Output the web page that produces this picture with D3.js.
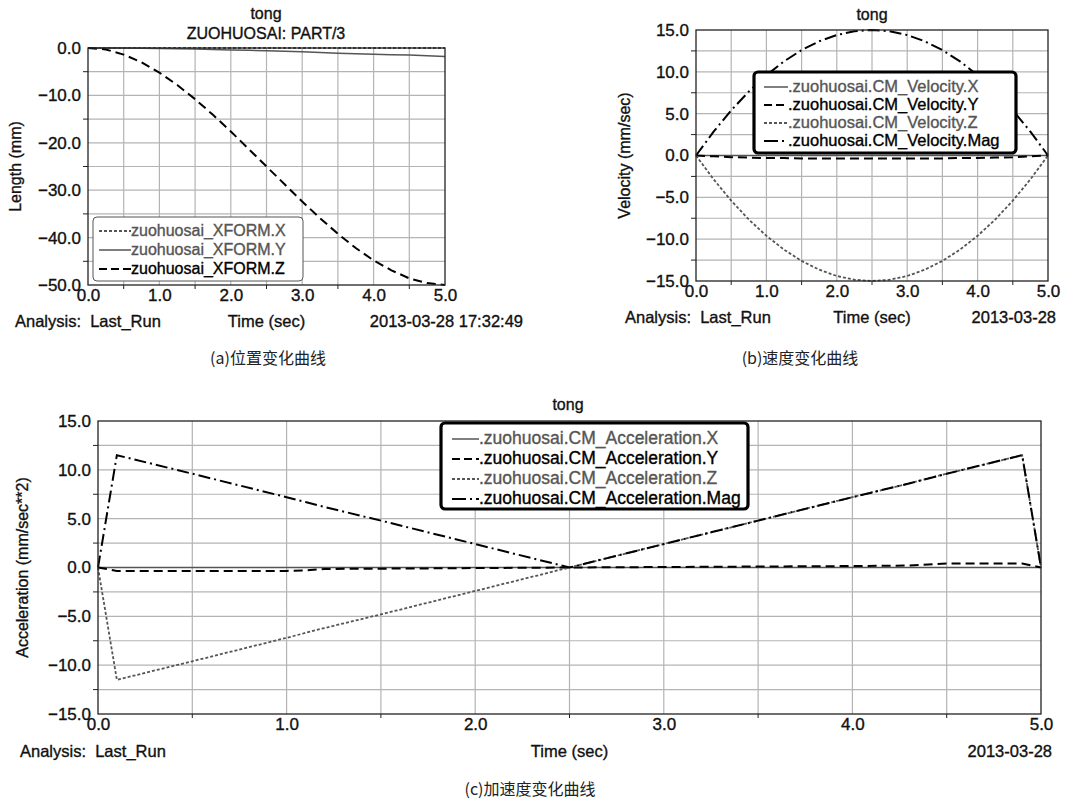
<!DOCTYPE html>
<html>
<head>
  <meta charset="utf-8">
  <script src="https://d3js.org/d3.v7.min.js"></script>
  <style>
    body { margin: 0; background: #fff; }
    svg text { font-family: "Liberation Sans", Arial, sans-serif; stroke-width: 0.35px; }
    .cap { font-family: "Noto Sans CJK SC", serif; }
  </style>
</head>
<body>
<div id="chart"></div>
<script>
  // (a) position
  const posTime = [0, 0.25, 0.5, 0.75, 1.0, 1.25, 1.5, 1.75, 2.0, 2.25, 2.5, 2.75, 3.0, 3.25, 3.5, 3.75, 4.0, 4.25, 4.5, 4.75, 5.0]
  const posX = [0, 0, 0, 0, 0, 0, 0, 0, 0, 0, 0, 0, 0, 0, 0, 0, 0, 0, 0, 0, 0]
  const posY = [0, 0, 0, -0.05, -0.1, -0.15, -0.2, -0.3, -0.4, -0.5, -0.6, -0.7, -0.8, -0.95, -1.1, -1.2, -1.3, -1.4, -1.5, -1.65, -1.8]
  const posZ = [0, -0.3, -1.4, -3.0, -5.2, -7.8, -10.8, -14.1, -17.6, -21.3, -25.0, -28.7, -32.4, -35.9, -39.2, -42.2, -44.8, -46.9, -48.6, -49.6, -50.0]

  // (b) velocity
  const velTime = posTime
  const velX = [0, 0, 0, 0, 0, 0, 0, 0, 0, 0, 0, 0, 0, 0, 0, 0, 0, 0, 0, 0, 0]
  const velY = [0, -0.1, -0.2, -0.25, -0.3, -0.3, -0.35, -0.35, -0.35, -0.35, -0.35, -0.35, -0.35, -0.35, -0.35, -0.3, -0.3, -0.25, -0.2, -0.1, 0]
  const velZ = [0, -2.85, -5.4, -7.65, -9.6, -11.25, -12.6, -13.65, -14.4, -14.85, -15.0, -14.85, -14.4, -13.65, -12.6, -11.25, -9.6, -7.65, -5.4, -2.85, 0]
  const velMag = [0, 2.85, 5.4, 7.65, 9.6, 11.25, 12.6, 13.65, 14.4, 14.85, 15.0, 14.85, 14.4, 13.65, 12.6, 11.25, 9.6, 7.65, 5.4, 2.85, 0]

  // (c) acceleration
  const accTime = [0, 0.1, 0.5, 1.0, 1.1, 1.2, 1.5, 2.0, 2.5, 3.0, 3.5, 4.0, 4.3, 4.5, 4.9, 5.0]
  const accX = [0, 0, 0, 0, 0, 0, 0, 0, 0, 0, 0, 0, 0, 0, 0, 0]
  const accY = [0, -0.35, -0.35, -0.35, -0.3, -0.15, -0.12, -0.06, 0, 0.05, 0.1, 0.15, 0.2, 0.4, 0.4, 0]
  const accZ = [0, -11.5, -9.6, -7.2, -6.7, -6.2, -4.8, -2.4, 0, 2.4, 4.8, 7.2, 8.6, 9.6, 11.5, 0]
  const accMag = [0, 11.5, 9.6, 7.2, 6.7, 6.2, 4.8, 2.4, 0, 2.4, 4.8, 7.2, 8.6, 9.6, 11.5, 0]

  const xTicks = [0, 1, 2, 3, 4, 5]

  const GRAY = "#555"
  const styles = {
    dotGray: { stroke: GRAY, width: 1.8, dash: "3,2" },
    solidGray: { stroke: GRAY, width: 1.5, dash: null },
    dashBlack: { stroke: "#000", width: 2, dash: "9,5" },
    dashDot: { stroke: "#000", width: 2, dash: "12,4,2,4" }
  }

  const svg = d3.select("#chart").append("svg")
    .attr("width", 1065).attr("height", 803)

  function txt(sel, size, color) {
    return sel.attr("font-size", size).attr("fill", color).attr("stroke", color)
  }

  function panel(p) {
    const g = svg.append("g")
    const x = d3.scaleLinear().domain([0, 5]).range([p.left, p.right])
    const y = d3.scaleLinear().domain(p.yDomain).range([p.bottom, p.top])

    // grid
    g.selectAll(".vg").data(d3.range(0.5, 5, 0.5)).join("line")
      .attr("x1", d => x(d)).attr("x2", d => x(d))
      .attr("y1", p.top).attr("y2", p.bottom)
      .attr("stroke", "#b4b4b4").attr("stroke-width", 1.2)
    g.selectAll(".hg").data(p.yGrid).join("line")
      .attr("x1", p.left).attr("x2", p.right)
      .attr("y1", d => y(d)).attr("y2", d => y(d))
      .attr("stroke", "#b4b4b4").attr("stroke-width", 1.2)

    // series
    const line = d3.line().x(d => x(d[0])).y(d => y(d[1]))
    p.series.forEach(s => {
      g.append("path")
        .datum(s.t.map((t, i) => [t, s.v[i]]))
        .attr("d", line)
        .attr("fill", "none")
        .attr("stroke", s.style.stroke)
        .attr("stroke-width", s.style.width)
        .attr("stroke-dasharray", s.style.dash)
    })

    // frame
    g.append("rect")
      .attr("x", p.left).attr("y", p.top)
      .attr("width", p.right - p.left).attr("height", p.bottom - p.top)
      .attr("fill", "none").attr("stroke", "#222").attr("stroke-width", 1.3)

    // axes
    const yAxis = d3.axisLeft(y).tickValues(p.yTicks).tickSize(0).tickPadding(7)
      .tickFormat(d3.format(".1f"))
    const ya = g.append("g").attr("transform", `translate(${p.left},0)`).call(yAxis)
    ya.select(".domain").remove()
    txt(ya.selectAll("text"), 17, "#111")
      .text(d => d === 0 ? "0.0" : d3.format(".1f")(d))
    g.selectAll(".ym").data(p.yMinor).join("line")
      .attr("x1", p.left - 5).attr("x2", p.left)
      .attr("y1", d => y(d)).attr("y2", d => y(d))
      .attr("stroke", "#222")

    const xAxis = d3.axisBottom(x).tickValues(xTicks).tickSize(0).tickPadding(4)
      .tickFormat(d3.format(".1f"))
    const xa = g.append("g").attr("transform", `translate(0,${p.bottom})`).call(xAxis)
    xa.select(".domain").remove()
    txt(xa.selectAll("text"), 17, "#111")
    g.selectAll(".xm").data(d3.range(0.5, 5, 1)).join("line")
      .attr("x1", d => x(d)).attr("x2", d => x(d))
      .attr("y1", p.bottom).attr("y2", p.bottom + 4)
      .attr("stroke", "#222")

    // titles
    p.titles.forEach((t, i) => {
      txt(g.append("text").attr("x", p.titleX).attr("y", p.titleY + i * 20)
        .attr("text-anchor", "middle"), 16, "#111").text(t)
    })
    txt(g.append("text")
      .attr("transform", `translate(${p.yLabelX},${(p.top + p.bottom) / 2}) rotate(-90)`)
      .attr("text-anchor", "middle"), 16, "#111").text(p.yLabel)

    // footer
    const fy = p.footY
    txt(g.append("text").attr("x", p.footLeft).attr("y", fy)
      .attr("xml:space", "preserve"), 16.5, "#111").text("Analysis:  Last_Run")
    txt(g.append("text").attr("x", (p.left + p.right) / 2).attr("y", fy)
      .attr("text-anchor", "middle"), 16.5, "#111").text("Time (sec)")
    txt(g.append("text").attr("x", p.footRight).attr("y", fy)
      .attr("text-anchor", "end"), 16.5, "#111").text(p.date)

    // legend
    const L = p.legend
    g.append("rect").attr("x", L.x).attr("y", L.y).attr("width", L.w).attr("height", L.h)
      .attr("rx", 4).attr("fill", "#fff")
      .attr("stroke", L.thick ? "#000" : "#555").attr("stroke-width", L.thick ? 3.2 : 1)
    p.series.forEach((s, i) => {
      const ly = L.y + L.first + i * L.step
      g.append("line").attr("x1", L.x + L.pad).attr("x2", L.x + L.pad + L.sample)
        .attr("y1", ly - 5).attr("y2", ly - 5)
        .attr("stroke", s.style.stroke).attr("stroke-width", s.style.width)
        .attr("stroke-dasharray", s.legendDash || s.style.dash)
      txt(g.append("text").attr("x", L.x + L.pad + L.sample).attr("y", ly),
        L.font, s.style.stroke === "#000" ? "#000" : "#555")
        .text(s.name)
    })
  }

  panel({
    left: 88, right: 445, top: 48, bottom: 285,
    yDomain: [-50, 0], yTicks: d3.range(-50, 1, 10), yGrid: d3.range(-45, 0, 5),
    yMinor: d3.range(-45, 0, 10),
    titles: ["tong", "ZUOHUOSAI: PART/3"], titleX: 266, titleY: 19,
    yLabel: "Length (mm)", yLabelX: 21,
    footY: 327, footLeft: 15, footRight: 523, date: "2013-03-28 17:32:49",
    legend: { x: 93, y: 217, w: 210, h: 64, pad: 6, sample: 32, first: 19, step: 19, font: 16, thick: false },
    series: [
      { name: "zuohuosai_XFORM.X", t: posTime, v: posX, style: styles.dotGray },
      { name: "zuohuosai_XFORM.Y", t: posTime, v: posY, style: styles.solidGray },
      { name: "zuohuosai_XFORM.Z", t: posTime, v: posZ, style: styles.dashBlack, legendDash: "8,4" }
    ]
  })

  panel({
    left: 696, right: 1048, top: 30, bottom: 281,
    yDomain: [-15, 15], yTicks: d3.range(-15, 16, 5), yGrid: d3.range(-12.5, 15, 2.5),
    yMinor: d3.range(-12.5, 15, 5),
    titles: ["tong"], titleX: 872, titleY: 20,
    yLabel: "Velocity (mm/sec)", yLabelX: 630,
    footY: 323, footLeft: 625, footRight: 1056, date: "2013-03-28",
    legend: { x: 754, y: 72, w: 262, h: 81, pad: 10, sample: 24, first: 20, step: 18, font: 16.5, thick: true },
    series: [
      { name: ".zuohuosai.CM_Velocity.X", t: velTime, v: velX, style: styles.solidGray },
      { name: ".zuohuosai.CM_Velocity.Y", t: velTime, v: velY, style: styles.dashBlack, legendDash: "8,4" },
      { name: ".zuohuosai.CM_Velocity.Z", t: velTime, v: velZ, style: styles.dotGray },
      { name: ".zuohuosai.CM_Velocity.Mag", t: velTime, v: velMag, style: styles.dashDot, legendDash: "14,4,2,4" }
    ]
  })

  panel({
    left: 98, right: 1041, top: 421, bottom: 714,
    yDomain: [-15, 15], yTicks: d3.range(-15, 16, 5), yGrid: d3.range(-12.5, 15, 2.5),
    yMinor: d3.range(-12.5, 15, 5),
    titles: ["tong"], titleX: 568, titleY: 410,
    yLabel: "Acceleration (mm/sec**2)", yLabelX: 28,
    footY: 757, footLeft: 20, footRight: 1052, date: "2013-03-28",
    legend: { x: 441, y: 423, w: 307, h: 86, pad: 11, sample: 27, first: 21, step: 20, font: 17.5, thick: true },
    series: [
      { name: ".zuohuosai.CM_Acceleration.X", t: accTime, v: accX, style: styles.solidGray },
      { name: ".zuohuosai.CM_Acceleration.Y", t: accTime, v: accY, style: styles.dashBlack, legendDash: "8,4" },
      { name: ".zuohuosai.CM_Acceleration.Z", t: accTime, v: accZ, style: styles.dotGray },
      { name: ".zuohuosai.CM_Acceleration.Mag", t: accTime, v: accMag, style: styles.dashDot, legendDash: "14,4,2,4" }
    ]
  })

  // captions
  const caps = [["(a)位置变化曲线", 268, 364], ["(b)速度变化曲线", 800, 364], ["(c)加速度变化曲线", 530, 795]]
  svg.selectAll(".cap").data(caps).join("text")
    .attr("class", "cap")
    .attr("x", d => d[1]).attr("y", d => d[2])
    .attr("text-anchor", "middle").attr("font-size", 16).attr("fill", "#222")
    .text(d => d[0])
</script>
</body>
</html>
